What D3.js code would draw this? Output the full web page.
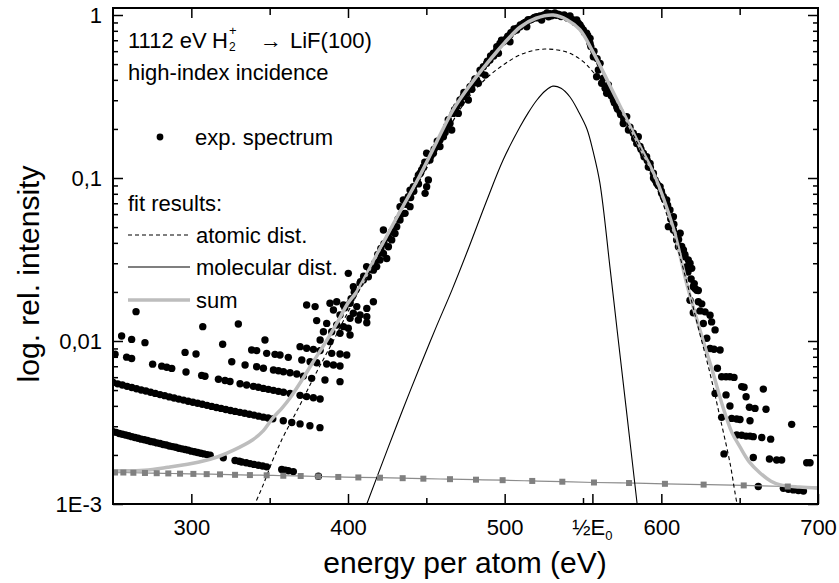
<!DOCTYPE html>
<html><head><meta charset="utf-8">
<script src="https://cdn.jsdelivr.net/npm/d3@7"></script>
<style>body{margin:0;background:#fff}svg text{font-family:"Liberation Sans",Arial,sans-serif;fill:#000}</style>
</head><body><svg id="c" width="839" height="583"></svg>
<script>
// ---------- data ----------
const xDomain = [250, 700];
const yDomain = [0.001, 1.104];
const xMajorTicks = [300, 400, 500, 600, 700];
const xMinorTicks = [350, 450, 550, 650];
const halfE0 = 556;
const yMajorTicks = [1, 0.1, 0.01, 0.001];
const yTickLabels = ["1", "0,1", "0,01", "1E-3"];
const yMinorTicks = [0.002,0.003,0.004,0.005,0.006,0.007,0.008,0.009,0.02,0.03,0.04,0.05,0.06,0.07,0.08,0.09,0.2,0.3,0.4,0.5,0.6,0.7,0.8,0.9];

// experimental spectrum [energy (eV), rel. intensity]
const expSpectrum = [
[250,.00278],[252,.00275],[254,.00271],[256,.00268],[258,.00265],[260,.00262],[262,.00259],[264,.00256],[266,.00253],[268,.00250],[270,.00248],[272,.00245],[274,.00242],[276,.00240],[278,.00237],[280,.00235],[282,.00232],[284,.00230],[286,.00227],[288,.00225],[290,.00223],[292,.00220],[294,.00218],[296,.00216],[298,.00214],[300,.00211],[302,.00209],[304,.00207],[306,.00205],[308,.00203],[310,.00201],[312,.00199],
[320.4,.00192],[327.9,.00185],[330.5,.00183],[332.1,.00181],[335,.00179],[337.5,.00177],[340,.00175],[342.8,.00173],[345.5,.00171],[348.1,.00169],[357.7,.00163],[360,.00161],[361.9,.00160],[365.1,.00158],[381.1,.00148],
[250,.00556],[253,.00546],[256,.00537],[259,.00527],[262,.00518],[265,.00509],[268,.00501],[271,.00493],[274,.00485],[277,.00477],[280,.00469],[283,.00462],[286,.00454],[289,.00447],[292,.00440],[295,.00434],[298,.00427],[301,.00421],[304,.00415],[307,.00409],[310,.00403],[313,.00397],[316,.00391],[319,.00386],[322,.00380],[325,.00375],[328,.00370],[331,.00365],[334,.00360],[337,.00355],[340,.00351],[343,.00346],[346,.00341],[349,.00337],[352,.00333],[358.7,.00324],[364.1,.00316],[369.4,.00310],[375.7,.00302],[382.1,.00294],
[251.3,.00830],[258.7,.00796],[261.9,.00781],[275.3,.00721],[281.1,.00701],[284.3,.00690],[287.5,.00679],[296.6,.00646],[306.6,.00615],[308.7,.00608],[317.3,.00583],[321.5,.00572],[324.7,.00564],[331.1,.00547],[335.3,.00537],[339.6,.00527],[342.8,.00520],[346,.00512],[349.2,.00505],[352.4,.00498],[355.6,.00491],[358.8,.00485],[363,.00476],[369.4,.00464],[373.6,.00456],[377.9,.00449],[382.2,.00441],
[255.5,.01074],[261.9,.01023],[270.4,.00977],[296,.00851],[303,.00832],[325.8,.00746],[334.3,.00712],[341.7,.00695],[346,.00680],[352.4,.00664],[355.6,.00657],[358.8,.00648],[363,.00639],[367.3,.00627],[371.5,.00609],[376.8,.00590],[385.3,.00577],[394.9,.00563],
[264.7,.01514],[307.3,.01225],[320,.00955],[330,.01271],[347,.01014],[338.5,.00881],[341.7,.00873],[348.1,.00840],[353.4,.00828],[356.6,.00820],[361.9,.00794],[369.4,.00923],[373.6,.00902],[377.9,.00889],[382.2,.00873],[370.5,.00764],[375.8,.00746],[380,.00736],[386.4,.00722],[390.7,.00712],[394.9,.00703],[389.6,.00840],[394.9,.00832],[399.2,.00820],
[373.6,.01663],[379,.01626],[388.5,.01703],[392.8,.01742],[397.1,.01663],[401.3,.01703],[405.6,.01626],[412,.01585],[416.2,.01742],[390.7,.01549],[394.9,.01445],[403.4,.01479],[407.7,.01445],[412,.01410],[401.3,.01377],[406.6,.01345],[412,.01295],[380,.01334],[386.4,.01282],[392.8,.01253],[397.1,.01225],[400.2,.01197],[384.3,.01140],[389.6,.01140],[394.9,.01114],[401.3,.01089],[382.2,.01014],[388.5,.00991],
[444.9,.104],[441.7,.0885],[438.5,.0768],[439.6,.0667],[436.4,.0607],[433.2,.0552],[431.1,.0503],[430,.0457],[427.9,.0417],[425.8,.0379],[422.6,.0345],[424.7,.0321],[420.4,.0314],[418.3,.0286],[416.2,.0272],[411.9,.0286],[413,.0248],[409.8,.0237],[407.7,.0226],[403.4,.0215],[400.2,.0260],[422.6,.0480],[433.2,.0667],[435.3,.0733],[439.6,.0843],[443.8,.0973],
[446,.107],[448.1,.117],[450.2,.0885],[450.2,.142],[449.2,.0805],[452.3,.129],[454.5,.142],[456.6,.156],[458.7,.171],[460.9,.179],[463,.207],[465.1,.216],[467.2,.249],[469.4,.274],[471.5,.301],[473.6,.316],[475.7,.331],[477.9,.363],[480,.381],[482.1,.399],[484.3,.459],[486.4,.482],[488.5,.505],[490.6,.530],[492.8,.582],[494.9,.610],[497,.670],[499.2,.686],[501.3,.719],[503.4,.754],[505.5,.791],[507.7,.809],[509.8,.848],[511.9,.889],[514.1,.910],[516.2,.931],[518.3,.954],[520.4,.977],[522.6,.986],[526.8,1.0],[531.1,1.01],[535.3,1.0],[539.6,.977],[543.8,.931],[548.1,.869],[554.5,.670],
[451.3,.0973],[458.7,.156],[466.2,.197],[470.4,.249],[476.8,.301],[483.2,.381],[487.5,.428],[496,.582],[503.4,.686],[514.1,.848],[523.6,.931],[541.7,.986],[546,.931],[524.5,.99],[529,1.02],[533,.995],[537.5,.99],[528,.975],
[398,.0160],[402,.0182],[404,.0199],[408,.0231],[410,.0250],[414,.0275],[417,.0300],[419,.0340],[421,.0370],[423,.0395],[426,.0430],[428,.0470],[432,.0560],[434,.0600],[437,.0690],[440,.0760],[442,.0830],[445,.0920],[447,.112],[449,.125],[453,.137],[455,.150],[457,.168],[462,.190],[464,.228],[468,.262],[472,.288],[474,.335],[479,.350],[481,.405],[485,.440],[489,.520],[491,.560],[493,.560],[495,.640],[498,.700],[500,.700],[502,.740],[504,.780],[506,.820],[508,.830],[510,.870],[513,.900],[515,.935],[517,.940],[519,.965],[521,.960],[525,1.0],[527,1.03],[530,.99],[532,1.03],[534,1.01],[536,.98],[538,1.0],[540,.96],[542,.95],[545,.90],[547,.89],[549,.84],[551,.78],[553,.75],
[552.3,.773],[550.2,.809],[556.6,.555],[560.9,.505],[558.7,.418],[561.9,.381],[564.1,.355],[565.1,.331],[569.4,.301],[571.5,.274],[573.6,.255],[577.9,.238],[579,.197],[582.1,.188],[584.3,.163],[586.4,.156],[588.5,.142],[590.6,.135],[592.8,.123],[594.9,.107],[596,.0973],[597,.0928],[599.2,.0885],[601.3,.0768],[603.4,.0733],[605.5,.0637],[604.5,.0503],[607.7,.0480],[609.8,.0417],[610.9,.0379],[614.1,.0362],[615.1,.0329],[616.2,.0286],[619.4,.0279],[618.3,.0300],[620.4,.0215],[622.6,.0205],
[554.5,.719],[559.8,.460],[566.2,.372],[575.7,.216],[585.3,.179],[591.7,.117],[600.2,.0805],[607.7,.0579],[612,.0458],[617.2,.0314],
[555,.64],[557,.60],[559,.54],[563,.41],[566,.345],[568,.320],[570,.29],[572,.265],[574,.245],[576,.23],[580,.205],[583,.175],[587,.150],[589,.135],[591,.128],[593,.116],[595,.100],[598,.090],[600,.083],[602,.074],[604,.068],[606,.056],[608,.052],[611,.042],[613,.038],[615,.034],[617,.0265],[619,.0240],[621,.0225],
[621.5,.0210],[623.6,.0204],[618.3,.0178],[623.6,.0174],[625.8,.0169],[620.4,.0149],[624.7,.0153],[627.9,.0151],[631.1,.0144],[632.1,.0131],[626.8,.0128],[634.3,.0117],[629,.0104],[631.1,.0090],[633.6,.0089],[637.5,.0088],[635.8,.00680],[638.5,.00604],[641.3,.00604],[643.8,.00604],[646.4,.00598],[634.3,.00477],[641.3,.00467],[651.3,.00525],[652.8,.00520],[665.1,.00507],[654.1,.00455],[643.8,.00399],[656.2,.00392],[659.8,.00386],[666.8,.00381],[638.5,.00340],[644.9,.00335],[648.1,.00332],[650.2,.00330],[656.6,.00324],[683.2,.00308],[648.1,.00265],[651.3,.00264],[654.1,.00261],[656.6,.00261],[658.7,.00259],[664.1,.00256],[669.8,.00250],[640,.00203],[658.7,.00193],[669,.00189],[673.6,.00186],[676.8,.00186],[692.8,.00179],[694.9,.00179],[661.9,.00128],[677.9,.00125],[681.1,.00123],[684.3,.00122],[687.5,.00121],[690.7,.00120]
];

// fit curves [energy, intensity]
const sumFit = [[250,.00160],[270,.00161],[285,.00168],[305,.00181],[317,.00195],[327,.00214],[339,.00247],[346,.00282],[352,.00337],[358,.00389],[363,.00447],[369.4,.00552],[377.7,.00743],[386.6,.01014],[393,.0129],[400,.0171],[406.4,.0206],[420,.0363],[433,.0617],[446,.104],[456.5,.166],[467,.261],[478,.372],[489,.508],[500,.676],[510,.844],[520,.955],[531,1.0],[540,.933],[548,.813],[556,.603],[567,.372],[578,.227],[586,.158],[595,.107],[607.4,.050],[616.4,.0221],[626.6,.0101],[633,.00637],[639.3,.00394],[645,.00275],[650.2,.00224],[656,.00182],[663,.00155],[670,.00138],[676,.00131],[688,.00127],[700,.00125]];
const atomicFit = [[338,.00088],[340.6,.00100],[346,.00132],[352,.00186],[358,.00251],[364,.00324],[370,.00417],[380,.00646],[390,.00977],[400,.0151],[410,.0229],[420,.0339],[433,.0569],[446,.0966],[460,.170],[475,.295],[488.7,.412],[500,.501],[509.8,.569],[518,.605],[525.7,.618],[534,.610],[541.7,.582],[550,.519],[556.4,.447],[567.2,.332],[578,.217],[586,.155],[594.7,.101],[607.4,.0460],[616.4,.0227],[622.8,.0129],[631,.00637],[637.4,.00342],[643.8,.00179],[648.3,.00101],[650.5,.00085]];
const molecularFit = [[410,.00089],[412,.00100],[425,.00214],[435,.00380],[446,.00700],[456,.0120],[466.4,.0206],[477,.0372],[488.7,.0733],[499,.129],[509.8,.206],[515,.251],[520.6,.301],[526,.343],[530.8,.366],[536,.355],[541.7,.314],[547,.257],[552.5,.200],[556.5,.145],[560.8,.0931],[567.2,.0284],[572,.0112],[578,.00355],[584.5,.00101],[585,.00092]];
// background (gray squares)
const bgE = [251.3,256.6,263.0,270.4,277.9,285.3,292.8,301.3,309.8,318.3,327.9,337.4,348.1,358.7,369.8,381.0,393.8,406.6,420.4,434.9,448.1,465.1,481.7,498.7,517.6,536.8,557.0,579.4,602.3,627.0,652.6,680.7];
const bgI = [.00156,.00156,.001555,.00155,.001545,.00154,.001535,.00153,.001525,.00152,.00151,.001505,.00150,.00149,.001485,.001475,.001465,.001455,.00145,.00144,.00143,.00142,.00141,.00140,.001385,.00137,.001355,.001345,.00133,.001315,.00130,.00128];
const bgEdgeE = [250, 700];
const bgEdgeI = [.00157, .00127];

// ---------- chart ----------
const svg = d3.select("#c");
const L = 113, R = 818, T = 8, B = 504;
const x = d3.scaleLinear().domain(xDomain).range([L, R]);
const y = d3.scaleLog().domain(yDomain).range([B, T]);
const F = '"Liberation Sans",Arial,sans-serif';

svg.append("defs").append("clipPath").attr("id","clip")
  .append("rect").attr("x",L).attr("y",T).attr("width",R-L).attr("height",B-T);
const plot = svg.append("g").attr("clip-path","url(#clip)");

// experimental points
plot.append("g").selectAll("circle").data(expSpectrum).join("circle")
  .attr("cx", d => x(d[0])).attr("cy", d => y(d[1])).attr("r", 3.7).attr("fill", "#000");

const line = d3.line().x(d => x(d[0])).y(d => y(d[1])).curve(d3.curveCatmullRom.alpha(0.5));

// background line
const bgLine = [[bgEdgeE[0],bgEdgeI[0]], ...bgE.map((e,i)=>[e,bgI[i]]), [bgEdgeE[1],bgEdgeI[1]]];
plot.append("path").attr("d", line(bgLine)).attr("fill","none").attr("stroke","#8c8c8c").attr("stroke-width",1.2);

plot.append("path").attr("d", line(sumFit)).attr("fill","none").attr("stroke","#bdbdbd").attr("stroke-width",3.5);
plot.append("path").attr("d", line(atomicFit)).attr("fill","none").attr("stroke","#000").attr("stroke-width",1.1).attr("stroke-dasharray","4,3");
plot.append("path").attr("d", line(molecularFit)).attr("fill","none").attr("stroke","#000").attr("stroke-width",1.1);

plot.append("g").selectAll("rect").data(bgE.map((e,i)=>[e,bgI[i]])).join("rect")
  .attr("x", d => x(d[0]) - 3).attr("y", d => y(d[1]) - 3).attr("width", 6).attr("height", 6).attr("fill", "#808080");

// axes
function styleAxis(g){ g.select(".domain").remove(); g.selectAll("line").attr("stroke","#000").attr("stroke-width",1.5); g.selectAll("text").attr("font-family",F).attr("font-size",22).attr("fill","#000"); }
svg.append("g").attr("transform",`translate(0,${B})`)
  .call(d3.axisBottom(x).tickValues(xMajorTicks).tickSizeInner(-10).tickSizeOuter(0).tickPadding(15).tickFormat(d3.format("d"))).call(styleAxis);
svg.append("g").attr("transform",`translate(0,${B})`)
  .call(d3.axisBottom(x).tickValues(xMinorTicks).tickSizeInner(-6).tickSizeOuter(0).tickFormat("")).call(styleAxis);
svg.append("g").attr("transform",`translate(0,${B})`)
  .call(d3.axisBottom(x).tickValues([halfE0]).tickSizeInner(-10).tickSizeOuter(0).tickFormat("")).call(styleAxis);
svg.append("g").attr("transform",`translate(0,${T})`)
  .call(d3.axisTop(x).tickValues(xMajorTicks.filter(v=>v<700)).tickSizeInner(-10).tickSizeOuter(0).tickFormat("")).call(styleAxis);
svg.append("g").attr("transform",`translate(0,${T})`)
  .call(d3.axisTop(x).tickValues(xMinorTicks).tickSizeInner(-7).tickSizeOuter(0).tickFormat("")).call(styleAxis);
svg.append("g").attr("transform",`translate(${L},0)`)
  .call(d3.axisLeft(y).tickValues(yMajorTicks).tickSizeInner(-10).tickSizeOuter(0).tickPadding(11).tickFormat((d,i)=>yTickLabels[i])).call(styleAxis);
svg.append("g").attr("transform",`translate(${L},0)`)
  .call(d3.axisLeft(y).tickValues(yMinorTicks).tickSizeInner(-5).tickSizeOuter(0).tickFormat("")).call(styleAxis);
svg.append("g").attr("transform",`translate(${R},0)`)
  .call(d3.axisRight(y).tickValues(yMajorTicks).tickSizeInner(-10).tickSizeOuter(0).tickFormat("")).call(styleAxis);
svg.append("g").attr("transform",`translate(${R},0)`)
  .call(d3.axisRight(y).tickValues(yMinorTicks).tickSizeInner(-5).tickSizeOuter(0).tickFormat("")).call(styleAxis);

// half E0 label
const hl = svg.append("text").attr("x", x(halfE0)).attr("y", 535).attr("text-anchor","middle").attr("font-size",22);
hl.append("tspan").text("½E");
hl.append("tspan").attr("font-size",13).attr("dy",5).text("0");

// frame
svg.append("rect").attr("x",L).attr("y",T).attr("width",R-L).attr("height",B-T).attr("fill","none").attr("stroke","#000").attr("stroke-width",2);

// axis titles
svg.append("text").attr("x",465).attr("y",573).attr("text-anchor","middle").attr("font-size",30).text("energy per atom (eV)");
svg.append("text").attr("transform","translate(39,274) rotate(-90)").attr("text-anchor","middle").attr("font-size",30).text("log. rel. intensity");

// annotation
svg.append("text").attr("x",128).attr("y",48).attr("font-size",22).text("1112 eV");
svg.append("text").attr("x",212).attr("y",48).attr("font-size",22).text("H");
svg.append("text").attr("x",229).attr("y",51).attr("font-size",12).text("2");
svg.append("text").attr("x",229).attr("y",35).attr("font-size",13).text("+");
svg.append("text").attr("x",260).attr("y",48).attr("font-size",22).text("→");
svg.append("text").attr("x",290).attr("y",48).attr("font-size",22).text("LiF(100)");
svg.append("text").attr("x",128).attr("y",80).attr("font-size",22).text("high-index incidence");

// legend
svg.append("circle").attr("cx",160).attr("cy",137).attr("r",3.4).attr("fill","#000");
svg.append("text").attr("x",195).attr("y",145).attr("font-size",22).text("exp. spectrum");
svg.append("text").attr("x",128).attr("y",211).attr("font-size",22).text("fit results:");
const lg = [
  {y:235, label:"atomic dist.", stroke:"#000", w:1.1, dash:"4,3"},
  {y:267, label:"molecular dist.", stroke:"#000", w:1.1, dash:null},
  {y:300, label:"sum", stroke:"#bdbdbd", w:3.5, dash:null}
];
lg.forEach(d=>{
  svg.append("line").attr("x1",128).attr("x2",190).attr("y1",d.y).attr("y2",d.y).attr("stroke",d.stroke).attr("stroke-width",d.w).attr("stroke-dasharray",d.dash);
  svg.append("text").attr("x",196).attr("y",d.y+7.5).attr("font-size",22).text(d.label);
});
</script></body></html>
